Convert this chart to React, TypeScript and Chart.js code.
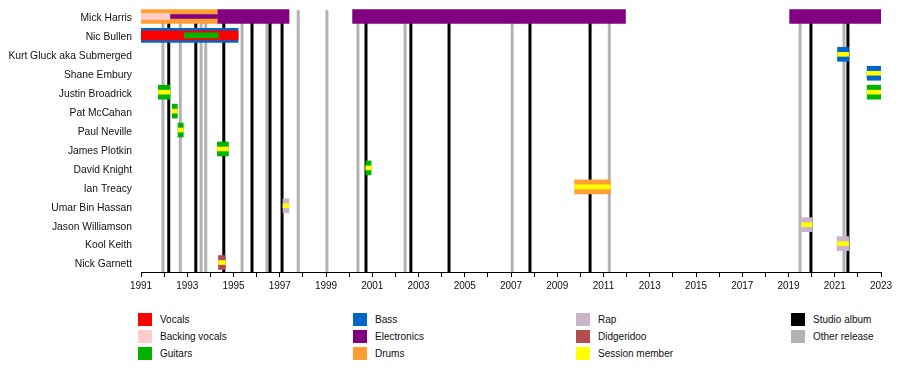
import React, { useEffect, useRef } from "react";
import { Chart, registerables } from "chart.js";
Chart.register(...registerables);

const members = [
  "Mick Harris",
  "Nic Bullen",
  "Kurt Gluck aka Submerged",
  "Shane Embury",
  "Justin Broadrick",
  "Pat McCahan",
  "Paul Neville",
  "James Plotkin",
  "David Knight",
  "Ian Treacy",
  "Umar Bin Hassan",
  "Jason Williamson",
  "Kool Keith",
  "Nick Garnett",
];

const yearMin = 1991;
const yearMax = 2023;

type Seg = [string, number, number];

// main roles (full-height bars)
const drums: Seg[] = [
  ["Mick Harris", 1991, 1994.3],
  ["Ian Treacy", 2009.75, 2011.3],
];
const electronics: Seg[] = [
  ["Mick Harris", 1994.3, 1997.4],
  ["Mick Harris", 2000.15, 2011.95],
  ["Mick Harris", 2019.05, 2023],
];
const bass: Seg[] = [
  ["Nic Bullen", 1991, 1995.2],
  ["Kurt Gluck aka Submerged", 2021.12, 2021.6],
  ["Shane Embury", 2022.4, 2023],
];
const guitars: Seg[] = [
  ["Justin Broadrick", 1991.75, 1992.25],
  ["Justin Broadrick", 2022.4, 2023],
  ["Pat McCahan", 1992.35, 1992.57],
  ["Paul Neville", 1992.6, 1992.83],
  ["James Plotkin", 1994.3, 1994.78],
  ["David Knight", 2000.72, 2000.95],
];
const rap: Seg[] = [
  ["Umar Bin Hassan", 1997.14, 1997.4],
  ["Jason Williamson", 2019.57, 2020.02],
  ["Kool Keith", 2021.1, 2021.6],
];
const didgeridoo: Seg[] = [["Nick Garnett", 1994.35, 1994.65]];

// secondary roles (narrower bands)
const vocals: Seg[] = [["Nic Bullen", 1991, 1995.2]];
const electronicsSecondary: Seg[] = [["Mick Harris", 1991, 1994.3]];
const backingVocals: Seg[] = [["Mick Harris", 1991, 1992.25]];
const guitarsSecondary: Seg[] = [["Nic Bullen", 1992.87, 1994.35]];

// session member stripes
const session: Seg[] = [
  ["Kurt Gluck aka Submerged", 2021.12, 2021.6],
  ["Shane Embury", 2022.4, 2023],
  ["Justin Broadrick", 1991.75, 1992.25],
  ["Justin Broadrick", 2022.4, 2023],
  ["Pat McCahan", 1992.35, 1992.57],
  ["Paul Neville", 1992.6, 1992.83],
  ["James Plotkin", 1994.3, 1994.78],
  ["David Knight", 2000.72, 2000.95],
  ["Ian Treacy", 2009.75, 2011.3],
  ["Umar Bin Hassan", 1997.14, 1997.4],
  ["Jason Williamson", 2019.57, 2020.02],
  ["Kool Keith", 2021.1, 2021.6],
  ["Nick Garnett", 1994.35, 1994.65],
];

const studioAlbums = [
  1992.2, 1993.37, 1994.58, 1995.8, 1996.58, 1997.1, 2000.73, 2002.67, 2004.32,
  2007.82, 2010.42, 2019.97, 2021.57,
];
const otherReleases = [
  1991.95, 1992.7, 1993.6, 1993.8, 1995.37, 1996.45, 1997.8, 1999.04, 2000.38,
  2002.42, 2007.05, 2011.25, 2019.5, 2021.4,
];

const C = {
  vocals: "#FF0000",
  bvocals: "#FFCCCC",
  guitars: "#00B300",
  bass: "#0066CC",
  electronics: "#800080",
  drums: "#FF9F33",
  rap: "#CCB3CC",
  didgeridoo: "#B34D4D",
  session: "#FFFF00",
  studio: "#000000",
  other: "#B3B3B3",
};

const legendCols = [
  [["Vocals", C.vocals], ["Backing vocals", C.bvocals], ["Guitars", C.guitars]],
  [["Bass", C.bass], ["Electronics", C.electronics], ["Drums", C.drums]],
  [["Rap", C.rap], ["Didgeridoo", C.didgeridoo], ["Session member", C.session]],
  [["Studio album", C.studio], ["Other release", C.other]],
];
const legendColX = [138, 353, 576, 791];
const legendRowY = [319, 336, 353];

const FONT = "'Liberation Sans', Arial, sans-serif";

function toData(segs: Seg[]) {
  return segs.map(([y, a, b]) => ({ y, x: [a, b] }));
}

const releaseLines = {
  id: "releaseLines",
  beforeDatasetsDraw(chart: any) {
    const { ctx, chartArea, scales } = chart;
    const x = scales.x;
    ctx.save();
    const draw = (vals: number[], color: string) => {
      ctx.strokeStyle = color;
      ctx.lineWidth = 3;
      vals.forEach((v) => {
        const px = x.getPixelForValue(v);
        ctx.beginPath();
        ctx.moveTo(px, chartArea.top + 3);
        ctx.lineTo(px, chartArea.bottom);
        ctx.stroke();
      });
    };
    draw(otherReleases, C.other);
    draw(studioAlbums, C.studio);
    ctx.restore();
  },
};

export default function App() {
  const ref = useRef<HTMLCanvasElement>(null);
  useEffect(() => {
    if (!ref.current) return;
    const mk = (label: string, segs: Seg[], color: string, thickness: number, order: number) => ({
      label,
      data: toData(segs),
      backgroundColor: color,
      barThickness: thickness,
      grouped: false,
      borderWidth: 0,
      order,
    });
    const chart = new Chart(ref.current, {
      type: "bar",
      data: {
        labels: members,
        datasets: [
          mk("Drums", drums, C.drums, 14, 10),
          mk("Electronics", electronics, C.electronics, 14, 10),
          mk("Bass", bass, C.bass, 14, 10),
          mk("Guitars", guitars, C.guitars, 14, 10),
          mk("Rap", rap, C.rap, 14, 10),
          mk("Didgeridoo", didgeridoo, C.didgeridoo, 14, 10),
          mk("Vocals", vocals, C.vocals, 9, 6),
          mk("Electronics (secondary)", electronicsSecondary, C.electronics, 4, 5),
          mk("Backing vocals", backingVocals, C.bvocals, 6, 4),
          mk("Guitars (secondary)", guitarsSecondary, C.guitars, 5, 3),
          mk("Session member", session, C.session, 4, 1),
        ] as any,
      },
      options: {
        indexAxis: "y",
        animation: false,
        responsive: false,
        maintainAspectRatio: false,
        events: [],
        layout: { padding: { top: 7, right: 19, left: 0, bottom: 0 } },
        plugins: { legend: { display: false }, tooltip: { enabled: false } },
        scales: {
          x: {
            type: "linear",
            min: yearMin,
            max: yearMax,
            offset: false,
            grid: {
              drawOnChartArea: false,
              drawTicks: true,
              tickLength: 5,
              color: "#000",
            },
            border: { display: true, color: "#000", width: 1 },
            ticks: {
              stepSize: 1,
              autoSkip: false,
              maxRotation: 0,
              padding: 3,
              color: "#111",
              font: { family: FONT, size: 10 },
              callback: (v: any) => ((Number(v) - yearMin) % 2 === 0 ? String(v) : ""),
            },
            afterFit: (s: any) => {
              s.height = 28;
            },
          },
          y: {
            type: "category",
            offset: true,
            grid: { display: false, drawTicks: false, tickLength: 0 },
            border: { display: false },
            ticks: {
              padding: 9,
              labelOffset: 2,
              color: "#111",
              font: { family: FONT, size: 10.3 },
            },
            afterFit: (s: any) => {
              s.width = 141;
              s.paddingTop = 0;
              s.paddingBottom = 0;
            },
          },
        },
      } as any,
      plugins: [releaseLines],
    });
    return () => chart.destroy();
  }, []);

  return (
    <div
      style={{
        position: "absolute",
        left: 0,
        top: 0,
        width: 900,
        height: 370,
        background: "#fff",
        fontFamily: FONT,
      }}
    >
      <canvas ref={ref} width={900} height={300} style={{ width: 900, height: 300, display: "block" }} />
      {legendCols.map((col, ci) =>
        col.map(([label, color], ri) => (
          <div
            key={label}
            style={{
              position: "absolute",
              left: legendColX[ci],
              top: legendRowY[ri] - 7,
              height: 14,
              display: "flex",
              alignItems: "center",
              fontSize: 10,
              color: "#111",
              whiteSpace: "nowrap",
            }}
          >
            <span style={{ display: "inline-block", width: 14, height: 13, background: color, marginRight: 8 }} />
            <span>{label}</span>
          </div>
        ))
      )}
    </div>
  );
}
